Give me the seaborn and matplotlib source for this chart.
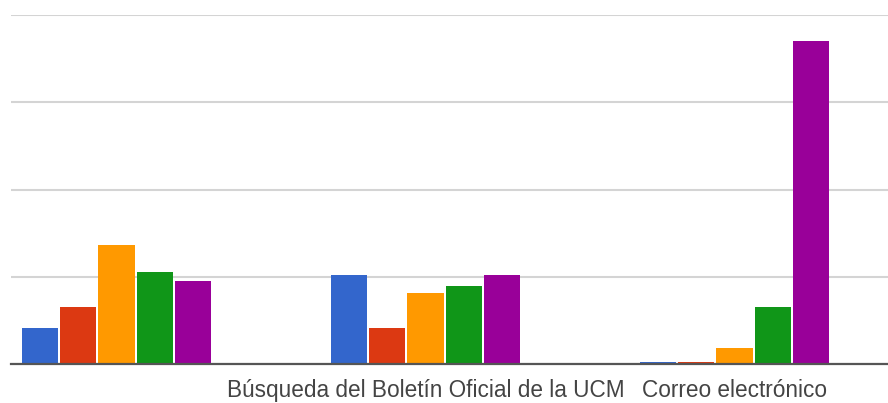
import matplotlib
matplotlib.use("Agg")
import matplotlib.pyplot as plt
import pandas as pd
import seaborn as sns

# categories (first label is not shown in the original chart)
categories = ["", "Búsqueda del Boletín Oficial de la UCM", "Correo electrónico"]
series = ["Serie 1", "Serie 2", "Serie 3", "Serie 4", "Serie 5"]
colors = ["#3366cc", "#dc3912", "#ff9900", "#109618", "#990099"]

serie_1 = [4.2, 10.2, 0.3]
serie_2 = [6.6, 4.2, 0.3]
serie_3 = [13.6, 8.1, 1.8]
serie_4 = [10.6, 9.0, 6.6]
serie_5 = [9.5, 10.2, 37.0]

values = [serie_1, serie_2, serie_3, serie_4, serie_5]

rows = []
for name, vals in zip(series, values):
    for cat, v in zip(categories, vals):
        rows.append({"categoria": cat, "serie": name, "valor": v})
df = pd.DataFrame(rows)

sns.set_style("white")
plt.rcParams["font.family"] = ["Liberation Sans", "DejaVu Sans"]

fig = plt.figure(figsize=(8.88, 4.03), dpi=100)
ax = fig.add_axes([11 / 888, (403 - 364.2) / 403, 877 / 888, (364.2 - 15) / 403])

sns.barplot(
    data=df,
    x="categoria",
    y="valor",
    hue="serie",
    order=categories,
    hue_order=series,
    palette=colors,
    width=0.62,
    gap=0.05,
    linewidth=0,
    saturation=1,
    legend=False,
    ax=ax,
)

ax.set_xlim(-0.3414, 2.4968)
ax.set_ylim(0, 40)
ax.set_yticks([0, 10, 20, 30, 40])
ax.set_yticklabels([])
ax.yaxis.grid(True, color="#d4d4d4", linewidth=1.5)
ax.set_axisbelow(True)
ax.tick_params(axis="y", length=0)
ax.tick_params(axis="x", length=0, pad=11, labelsize=16.3, labelcolor="#444444")

for side in ["top", "left", "right"]:
    ax.spines[side].set_visible(False)
ax.spines["bottom"].set_color("#555555")
ax.spines["bottom"].set_linewidth(1.6)
ax.spines["bottom"].set_zorder(5)

ax.set_xlabel("")
ax.set_ylabel("")

fig.savefig("out.png", dpi=100)
